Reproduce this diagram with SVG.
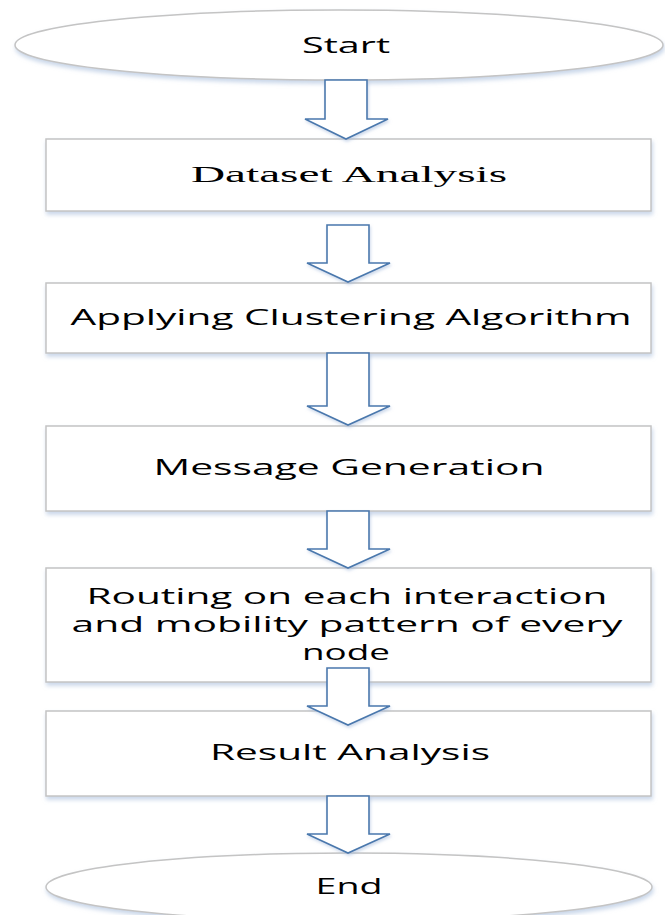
<svg xmlns="http://www.w3.org/2000/svg" width="665" height="915" viewBox="0 0 665 915">
  <defs>
    <filter id="soft" x="-5%" y="-20%" width="110%" height="150%">
      <feDropShadow dx="1" dy="3" stdDeviation="2" flood-color="#9db5d8" flood-opacity="0.55"/>
    </filter>
    <filter id="softArrow" x="-20%" y="-10%" width="140%" height="130%">
      <feDropShadow dx="1" dy="2" stdDeviation="1.5" flood-color="#9db5d8" flood-opacity="0.5"/>
    </filter>
  </defs>
  <style>
    .box { fill: #ffffff; stroke: #c4c4c4; stroke-width: 1.5; filter: url(#soft); }
    .term { fill: #ffffff; stroke: #c4c4c4; stroke-width: 1.5; filter: url(#soft); }
    .arrow { fill: #ffffff; stroke: #4a78ad; stroke-width: 1.6; stroke-linejoin: miter; filter: url(#softArrow); }
    .lbl { font-family: "Open Sans", "Liberation Sans", sans-serif; font-size: 22px; fill: #000000; text-anchor: middle; }
    .tight { font-size: 21px; }
    .serif { font-family: "Liberation Serif", "Times New Roman", serif; font-size: 24px; fill: #000000; text-anchor: middle; }
  </style>

  <rect width="665" height="915" fill="#ffffff"/>

  <!-- process nodes -->
  <g id="start">
    <ellipse class="term" cx="339" cy="45" rx="324" ry="35"/>
    <text class="lbl" x="346" y="53" textLength="88" lengthAdjust="spacingAndGlyphs">Start</text>
  </g>

  <g id="dataset-analysis">
    <rect class="box" x="46" y="139" width="605" height="72"/>
    <text class="serif" x="349" y="182" textLength="316" lengthAdjust="spacingAndGlyphs">Dataset Analysis</text>
  </g>

  <g id="clustering">
    <rect class="box" x="46" y="283" width="605" height="70"/>
    <text class="lbl" x="351" y="325" textLength="561" lengthAdjust="spacingAndGlyphs">Applying Clustering Algorithm</text>
  </g>

  <g id="message-generation">
    <rect class="box" x="46" y="426" width="605" height="85"/>
    <text class="lbl" x="349" y="475" textLength="391" lengthAdjust="spacingAndGlyphs">Message Generation</text>
  </g>

  <g id="routing">
    <rect class="box" x="46" y="568" width="605" height="114"/>
    <text class="lbl tight" x="347" y="604" textLength="521" lengthAdjust="spacingAndGlyphs">Routing on each interaction</text>
    <text class="lbl tight" x="347" y="632" textLength="551" lengthAdjust="spacingAndGlyphs">and mobility pattern of every</text>
    <text class="lbl tight" x="346" y="660" textLength="88" lengthAdjust="spacingAndGlyphs">node</text>
  </g>

  <g id="result-analysis">
    <rect class="box" x="46" y="711" width="605" height="85"/>
    <text class="lbl" x="350" y="760" textLength="280" lengthAdjust="spacingAndGlyphs">Result Analysis</text>
  </g>

  <g id="end">
    <ellipse class="term" cx="349" cy="887" rx="303" ry="34"/>
    <text class="lbl" x="349" y="894" textLength="67" lengthAdjust="spacingAndGlyphs">End</text>
  </g>

  <!-- block arrows between steps -->
  <g id="connectors">
    <path class="arrow" d="M325,80 H367 V119 H388 L346,139 L305,119 H325 Z"/>
    <path class="arrow" d="M327,225 H369 V263 H390 L348,282 L307,263 H327 Z"/>
    <path class="arrow" d="M327,353 H369 V406 H390 L348,425 L307,406 H327 Z"/>
    <path class="arrow" d="M327,511 H369 V549 H390 L348,568 L307,549 H327 Z"/>
    <path class="arrow" d="M327,668 H369 V706 H390 L348,725 L307,706 H327 Z"/>
    <path class="arrow" d="M327,796 H369 V834 H390 L348,853 L307,834 H327 Z"/>
  </g>
</svg>
